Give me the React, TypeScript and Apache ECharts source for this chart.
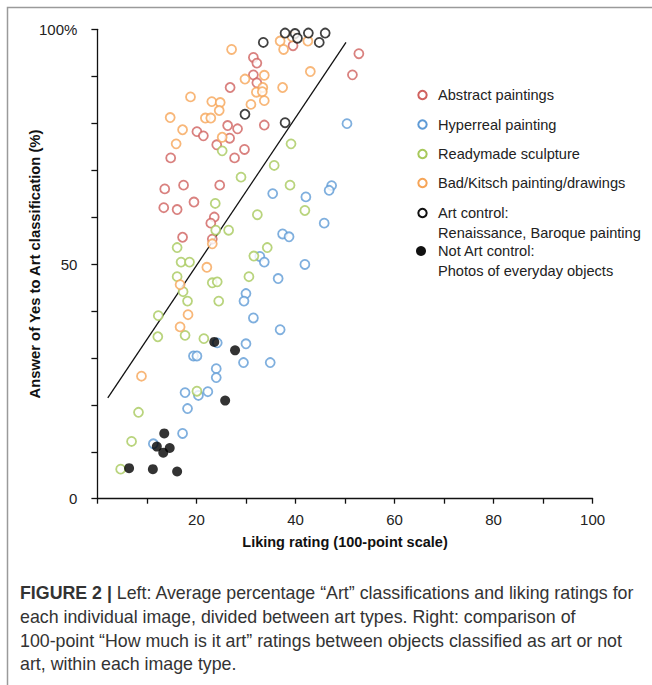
import React, { useEffect, useRef } from "react";
import * as echarts from "echarts";

// Liking rating (x) vs % "Art" classification (y)
const abstractPts: number[][] = [
  [31.5, 94.0], [32.2, 92.8], [31.5, 90.3], [32.2, 88.6], [26.8, 87.6], [26.3, 79.5],
  [28.3, 78.8], [20.1, 78.2], [21.4, 77.3], [26.7, 76.8], [24.1, 75.4], [29.7, 74.4],
  [14.8, 72.6], [27.7, 72.6], [39.5, 96.5], [52.8, 94.8], [51.5, 90.3], [33.7, 79.6],
  [13.6, 66.0], [17.4, 66.8], [24.7, 66.8], [13.4, 62.0], [16.1, 61.6], [19.5, 63.2],
  [23.6, 60.0], [22.9, 58.7], [17.2, 55.7], [23.2, 55.3],
];
const hyperrealPts: number[][] = [
  [50.4, 79.9], [35.4, 65.0], [42.1, 64.3], [47.3, 66.7], [46.8, 65.7], [45.8, 58.7],
  [37.4, 56.4], [38.7, 55.8], [32.8, 51.6], [33.7, 50.4], [41.9, 49.9], [36.5, 46.9],
  [30.0, 43.7], [29.6, 42.1], [31.5, 38.5], [36.9, 36.0], [24.2, 33.2], [30.0, 33.0],
  [19.4, 30.4], [20.1, 30.4], [29.5, 29.0], [34.9, 29.0], [24.0, 27.7], [24.0, 25.8],
  [17.7, 22.6], [20.4, 22.0], [22.3, 22.8], [18.2, 19.2], [17.2, 13.9], [11.3, 11.7],
];
const readymadePts: number[][] = [
  [25.2, 74.1], [29.0, 68.5], [39.1, 75.6], [35.7, 71.0], [23.8, 62.9], [32.3, 60.5],
  [23.9, 57.2], [26.5, 57.2], [16.1, 53.5], [16.9, 50.4], [18.6, 50.4], [16.1, 47.3],
  [31.6, 51.7], [30.6, 47.3], [23.2, 46.0], [24.2, 46.2], [17.3, 44.1], [18.2, 42.1],
  [24.5, 42.1], [12.3, 39.0], [38.9, 66.8], [41.9, 61.4], [34.3, 53.5], [12.2, 34.5],
  [17.7, 34.8], [21.5, 34.1], [20.1, 22.9], [8.3, 18.4], [6.9, 12.2], [4.7, 6.3],
];
const kitschPts: number[][] = [
  [27.1, 95.7], [29.8, 89.4], [18.8, 85.6], [23.1, 84.6], [24.8, 84.4], [24.6, 82.7],
  [31.0, 84.0], [14.7, 81.2], [21.8, 81.1], [22.9, 81.1], [17.2, 78.6], [15.9, 75.6],
  [25.2, 77.0], [32.1, 86.6], [36.9, 97.5], [39.3, 98.4], [42.5, 97.5], [37.6, 95.7],
  [33.7, 90.2], [43.0, 91.0], [33.4, 87.6], [33.3, 86.7], [37.4, 87.6], [33.7, 84.8],
  [23.2, 54.3], [22.1, 49.3], [16.7, 45.6], [18.3, 39.2], [16.7, 36.6], [8.9, 26.1],
];
const artControlPts: number[][] = [
  [37.9, 99.2], [39.9, 99.1], [42.6, 99.2], [46.0, 99.2], [40.4, 98.1], [33.5, 97.2],
  [44.8, 97.2], [29.8, 81.9], [37.9, 80.1],
];
const notArtPts: number[][] = [
  [23.6, 33.4], [27.8, 31.6], [25.8, 20.9], [13.5, 13.9], [12.0, 11.1], [14.6, 10.8],
  [13.3, 9.8], [6.4, 6.5], [11.2, 6.3], [16.1, 5.8],
];
const fitLine: number[][] = [[2.1, 21.5], [50.2, 97.2]];

const xTickLabels = [20, 40, 60, 80, 100];
const yTickLabels = [0, 50, 100];

const legendItems = [
  { lines: ["Abstract paintings"], color: "#d0625f", filled: false },
  { lines: ["Hyperreal painting"], color: "#5f9bd6", filled: false },
  { lines: ["Readymade sculpture"], color: "#a8c95c", filled: false },
  { lines: ["Bad/Kitsch painting/drawings"], color: "#f6a558", filled: false },
  { lines: ["Art control:", "Renaissance, Baroque painting"], color: "#111111", filled: false },
  { lines: ["Not Art control:", "Photos of everyday objects"], color: "#111111", filled: true },
];

const captionLines = [
  "Left: Average percentage \u201cArt\u201d classifications and liking ratings for",
  "each individual image, divided between art types. Right: comparison of",
  "100-point \u201cHow much is it art\u201d ratings between objects classified as art or not",
  "art, within each image type.",
];

const FONT = "'Liberation Sans', Arial, Helvetica, sans-serif";

export default function App() {
  const ref = useRef<HTMLDivElement>(null);
  useEffect(() => {
    if (!ref.current) return;
    const chart = echarts.init(ref.current, null, { renderer: "svg" });

    const open = (name: string, data: number[][], color: string) => ({
      name,
      type: "scatter",
      data,
      symbol: "circle",
      symbolSize: 9,
      itemStyle: { color: "#ffffff", borderColor: color, borderWidth: 1.8 },
      z: 3,
    });

    const legendGraphics: any[] = [];
    const legendY = [95, 124.5, 154, 183, 213, 251];
    legendItems.forEach((it, i) => {
      const y = legendY[i];
      legendGraphics.push({
        type: "circle",
        shape: { cx: it.filled ? 421 : 422.5, cy: y, r: it.filled ? 5 : 4.2 },
        style: it.filled
          ? { fill: it.color }
          : { fill: "#fff", stroke: it.color, lineWidth: 2 },
      });
      it.lines.forEach((ln, j) => {
        legendGraphics.push({
          type: "text",
          x: 438,
          y: y + j * 19.5,
          style: {
            text: ln,
            font: `14.6px ${FONT}`,
            fill: "#222",
            textVerticalAlign: "middle",
          },
        });
      });
    });

    const captionGraphics: any[] = captionLines.map((ln, i) => ({
      type: "text",
      x: 20,
      y: 593 + i * 23.8,
      style: {
        text: i === 0 ? `{b|FIGURE 2 |} ${ln}` : ln,
        rich: { b: { fontWeight: "bold", fontSize: 17.8, fontFamily: FONT, fill: "#333" } },
        font: `17.8px ${FONT}`,
        fill: "#333",
        textVerticalAlign: "middle",
      },
    }));

    chart.setOption({
      animation: false,
      backgroundColor: "#ffffff",
      grid: { left: 97.4, right: 59.4, top: 29.3, bottom: 186.3 },
      xAxis: {
        type: "value",
        min: 0,
        max: 100,
        interval: 10,
        name: "Liking rating (100-point scale)",
        nameLocation: "middle",
        nameGap: 36,
        nameTextStyle: { fontFamily: FONT, fontSize: 14.5, fontWeight: "bold", color: "#111" },
        axisLine: { show: true, lineStyle: { color: "#111", width: 1.3 } },
        axisTick: { show: true, length: 5, lineStyle: { color: "#111", width: 1.3 } },
        axisLabel: {
          margin: 13,
          fontFamily: FONT,
          fontSize: 15,
          color: "#222",
          formatter: (v: number) => (xTickLabels.includes(v) ? String(v) : ""),
        },
        splitLine: { show: false },
      },
      yAxis: {
        type: "value",
        min: 0,
        max: 100,
        interval: 10,
        name: "Answer of Yes to Art classification (%)",
        nameLocation: "middle",
        nameGap: 55,
        nameMoveOverlap: false,
        nameTextStyle: { fontFamily: FONT, fontSize: 14.8, fontWeight: "bold", color: "#111" },
        axisLine: { show: true, lineStyle: { color: "#111", width: 1.3 } },
        axisTick: { show: true, length: 6, lineStyle: { color: "#111", width: 1.3 } },
        axisLabel: {
          margin: 20,
          fontFamily: FONT,
          fontSize: 15,
          color: "#222",
          formatter: (v: number) =>
            yTickLabels.includes(v) ? (v === 100 ? "100%" : String(v)) : "",
        },
        splitLine: { show: false },
      },
      series: [
        {
          name: "fit",
          type: "line",
          data: fitLine,
          symbol: "none",
          lineStyle: { color: "#111", width: 1.3 },
          z: 2,
        },
        open("Abstract paintings", abstractPts, "#d0625f"),
        open("Hyperreal painting", hyperrealPts, "#5f9bd6"),
        open("Readymade sculpture", readymadePts, "#a8c95c"),
        open("Bad/Kitsch painting/drawings", kitschPts, "#f6a558"),
        open("Art control", artControlPts, "#111111"),
        {
          name: "Not Art control",
          type: "scatter",
          data: notArtPts,
          symbol: "circle",
          symbolSize: 10,
          itemStyle: { color: "#000" },
          z: 4,
        },
      ],
      graphic: [
        {
          type: "polyline",
          shape: { points: [[7.5, 685], [7.5, 7.5], [652, 7.5]] },
          style: { stroke: "#9a9a9a", lineWidth: 1.5, fill: "none" },
        },
        ...legendGraphics,
        ...captionGraphics,
      ],
    });
    return () => chart.dispose();
  }, []);

  return (
    <div
      ref={ref}
      style={{ position: "fixed", left: 0, top: 0, width: 652, height: 685, background: "#fff" }}
    />
  );
}
